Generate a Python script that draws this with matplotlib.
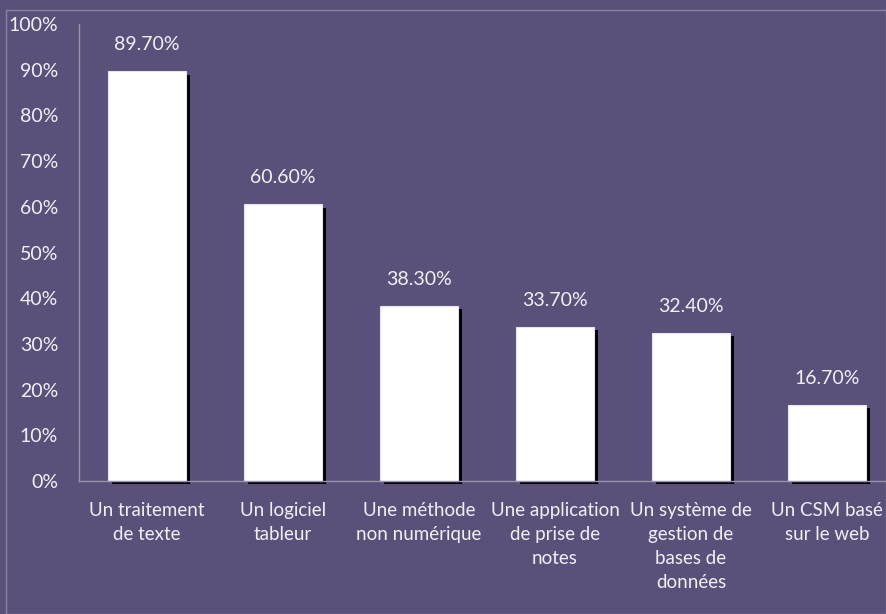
import matplotlib
matplotlib.use('Agg')
import matplotlib.pyplot as plt
import matplotlib.patheffects as pe
from matplotlib.patches import Rectangle

categories = ['Un traitement\nde texte', 'Un logiciel\ntableur', 'Une méthode\nnon numérique',
              'Une application\nde prise de\nnotes', 'Un système de\ngestion de\nbases de\ndonnées',
              'Un CSM basé\nsur le web']
values = [89.7, 60.6, 38.3, 33.7, 32.4, 16.7]
yticks = [0, 10, 20, 30, 40, 50, 60, 70, 80, 90, 100]

bg = '#5b5079'
txt = '#f2f0f7'
plt.rcParams['font.family'] = ['Lato', 'DejaVu Sans']

W, H = 887, 614
fig = plt.figure(figsize=(W / 100, H / 100), dpi=100)
fig.patch.set_facecolor(bg)

ax = fig.add_axes([79 / W, (H - 481) / H, (W - 79) / W, (481 - 24) / H])
ax.set_facecolor(bg)

x = list(range(len(values)))
bars = ax.bar(x, values, width=0.575, color='white', edgecolor='#e6e2f0', linewidth=0.8, zorder=3)
for b in bars:
    b.set_clip_on(False)
    b.set_path_effects([pe.SimplePatchShadow(offset=(3, -2.5), shadow_rgbFace='black', alpha=1.0),
                        pe.Normal()])

for xi, v in zip(x, values):
    ax.annotate('%.2f%%' % v, (xi, v), xytext=(0, 13), textcoords='offset points',
                ha='center', va='bottom', color=txt, fontsize=14)

ax.set_xlim(-0.5, -0.5 + (W - 79) / 136)
ax.set_ylim(0, 100)
ax.set_yticks(yticks)
ax.set_yticklabels(['%d%%' % t for t in yticks])
ax.set_xticks(x)
ax.set_xticklabels(categories, linespacing=1.5)
ax.tick_params(axis='y', length=0, pad=15, colors=txt, labelsize=14)
ax.tick_params(axis='x', length=0, pad=15, colors=txt, labelsize=13.5)

for s in ['top', 'right']:
    ax.spines[s].set_visible(False)
for s in ['left', 'bottom']:
    ax.spines[s].set_color('#9a94ab')
    ax.spines[s].set_linewidth(1.0)
    ax.spines[s].set_zorder(4)

# outer frame of the chart area
fig.patches.append(Rectangle((6 / W, 0.5 / H), (W - 7) / W, (H - 10.5) / H,
                             transform=fig.transFigure, fill=False,
                             edgecolor='#8a84a0', linewidth=1.0))

fig.savefig('out.png', dpi=100, facecolor=bg)
